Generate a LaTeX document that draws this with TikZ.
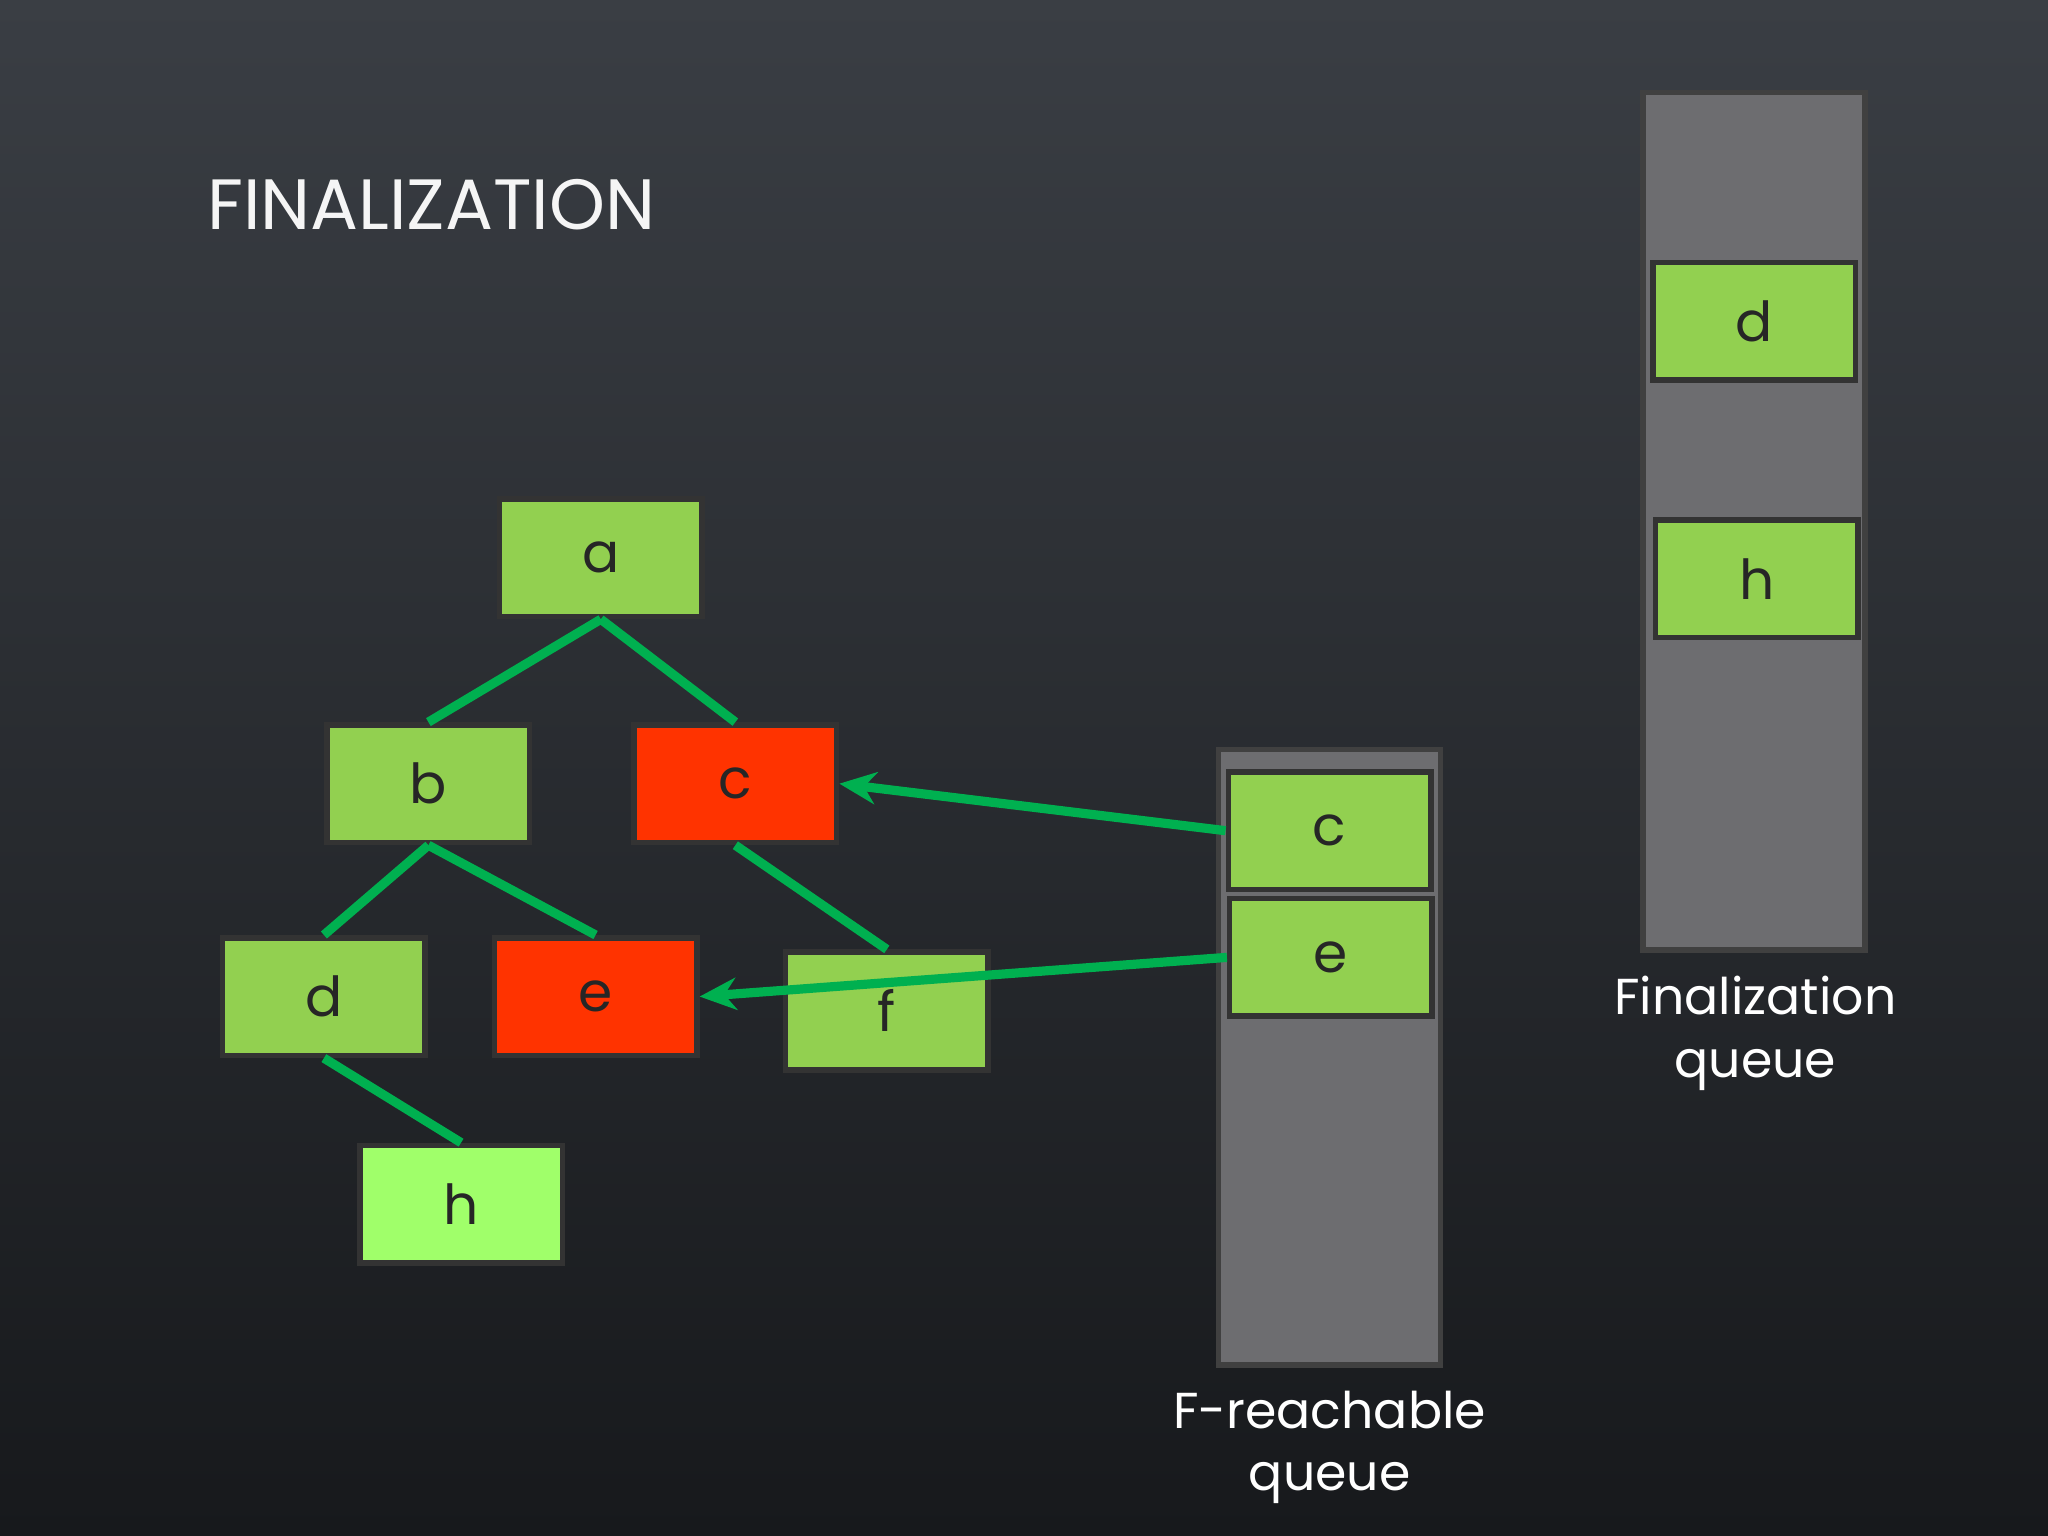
\documentclass[tikz,border=0pt]{standalone}
\usepackage{fontspec}
\setmainfont{Poppins}
\usetikzlibrary{arrows.meta}
\definecolor{bgtop}{HTML}{3A3E44}
\definecolor{bgbot}{HTML}{17191C}
\definecolor{boxg}{HTML}{92D050}
\definecolor{boxl}{HTML}{A0FF6A}
\definecolor{boxr}{HTML}{FF3300}
\definecolor{edgeg}{HTML}{00B050}
\definecolor{qgray}{HTML}{6D6D70}
\tikzset{
  obj/.style={draw=black!60!gray, line width=1.2pt, minimum width=1.55cm, minimum height=0.9cm, inner sep=0pt, font=\fontsize{12}{12}\selectfont, text=black!85},
  gobj/.style={obj, fill=boxg},
  robj/.style={obj, fill=boxr},
  lobj/.style={obj, fill=boxl},
  queue/.style={draw=black!50!gray, line width=1.2pt, fill=qgray, inner sep=0pt},
  link/.style={edgeg, line width=2pt},
  ptr/.style={link, -{Stealth[length=8pt,width=7pt]}},
  lbl/.style={text=white, align=center, font=\fontsize{11}{13.6}\selectfont}
}
\begin{document}
\begin{tikzpicture}[x=0.01cm,y=-0.01cm]
\shade[top color=bgtop, bottom color=bgbot] (0,0) rectangle (1568,1176);
\useasboundingbox (0,0) rectangle (1568,1176);
\node[anchor=west, text=white!92!gray, font=\fontsize{15.5}{16}\selectfont, inner sep=0pt] (title) at (158,157) {FINALIZATION};
% queues
\node[queue, minimum width=1.7cm, minimum height=4.71cm] (fq) at (1018,809.5) {};
\node[queue, minimum width=1.7cm, minimum height=6.56cm] (nq) at (1343,399) {};
\node[lbl] (fql) at (1018,1108) {F-reachable\\queue};
\node[lbl] (nql) at (1344,791) {Finalization\\queue};
\node[gobj] (qc) at (1018,636) {c};
\node[gobj] (qe) at (1019,733) {e};
\node[gobj] (nd) at (1343,246) {d};
\node[gobj] (nh) at (1345,443) {h};
% tree
\node[gobj] (a) at (460,427) {a};
\node[gobj] (b) at (328,600) {b};
\node[robj] (c) at (563,600) {c};
\node[gobj] (d) at (248,763) {d};
\node[robj] (e) at (456,763) {e};
\node[gobj] (f) at (679,774) {f};
\node[lobj] (h) at (353,922) {h};
\draw[link] (a.south) -- (b.north);
\draw[link] (a.south) -- (c.north);
\draw[link] (b.south) -- (d.north);
\draw[link] (b.south) -- (e.north);
\draw[link] (c.south) -- (f.north);
\draw[link] (d.south) -- (h.north);
\draw[ptr] (qc.west) -- (c.east);
\draw[ptr] (qe.west) -- (e.east);
\end{tikzpicture}
\end{document}
